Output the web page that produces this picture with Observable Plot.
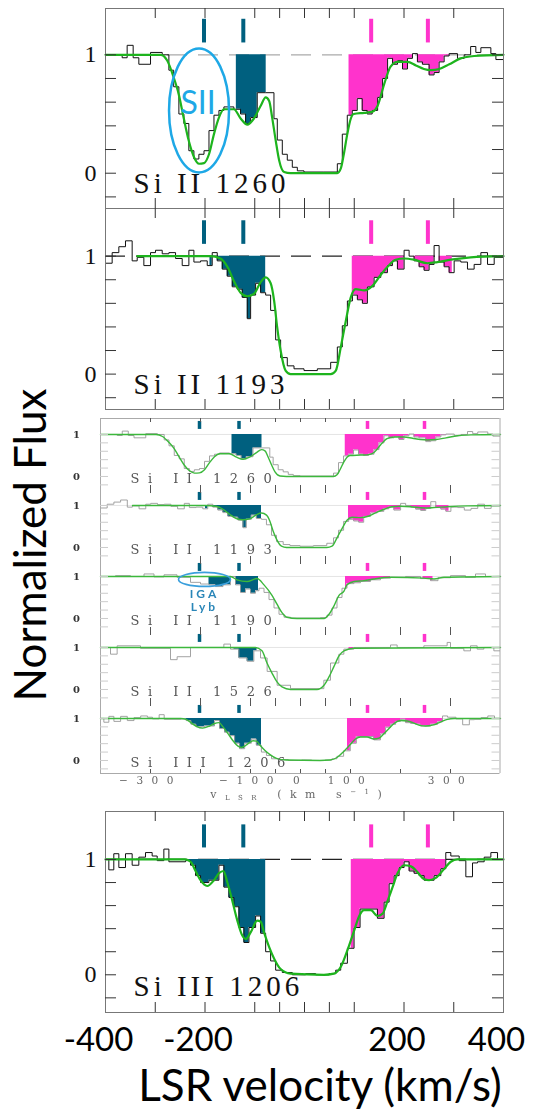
<!DOCTYPE html>
<html><head><meta charset="utf-8">
<script src="https://cdn.jsdelivr.net/npm/d3@7"></script>
<script src="https://cdn.jsdelivr.net/npm/@observablehq/plot@0.6"></script>
<style>
html,body{margin:0;padding:0;background:#fff}
#root{position:relative;width:538px;height:1112px;overflow:hidden;background:#fff}
.slot{position:absolute;left:0}
.slot svg{overflow:visible;background:transparent}
#ylab{position:absolute;left:29px;top:545px;transform:translate(-50%,-50%) rotate(-90deg);font:44px Lato;white-space:nowrap;color:#000}
#xlab{position:absolute;left:320px;top:1084px;transform:translate(-50%,-50%);font:44px Lato;white-space:nowrap;color:#000}
</style></head>
<body><div id="root"><div id="ylab">Normalized Flux</div><div id="xlab">LSR velocity (km/s)</div></div>
<script>
// ---------- axes / ticks ----------
const xDomain = [-400, 400];
const frameXTicks = [-300, -200, -100, -50, 0, 50, 100, 200, 300];
const frameYTicks = [-0.2, 0, 0.2, 0.4, 0.6, 0.8, 1.0];
const fluxTickLabels = [0, 1];
const velocityTickLabels = [-400, -200, 200, 400];
const compositeTickLabels = [-300, -100, 0, 100, 300];

// ---------- velocity components ----------
const tealComponents = [-202, -123];
const magentaComponents = [134, 248];

// ---------- Si II 1260 (histogram bin left edges, flux) ----------
const si1260V = [-400,-366.5,-356.5,-344.4,-333,-309.5,-286,-272.6,-263,-252.5,-242.5,-232.5,-222.3,-212.3,-202,-192,-182,-172,-162,-142,-128.5,-118.4,-108.3,-95,-78,-61.4,-54.7,-44.6,-34.6,-24.5,-14.4,-1,39,66,76,86,96,106,116,126,136,147,157,167,177,187,197,207,217,227,237,250.5,260.5,270.6,280.7,290.7,307.5,321,334,344.4,354.5,374.6,384.7];
const si1260F = [1.0,0.975,1.08,0.975,0.92,1.02,1.0,0.87,0.73,0.50,0.42,0.19,0.12,0.16,0.19,0.36,0.49,0.53,0.56,0.54,0.50,0.42,0.47,0.68,0.68,0.46,0.28,0.16,0.11,0.05,0.02,0.01,0.01,0.08,0.33,0.49,0.53,0.63,0.53,0.50,0.53,0.64,0.80,0.97,0.92,0.95,0.88,0.97,1.01,0.94,0.92,0.83,0.85,0.94,0.99,1.01,0.97,1.0,1.07,1.02,1.06,1.01,0.96];
const si1260ModelV = [-400,-289,-276,-263,-253,-243,-233,-222,-212,-202,-192,-182,-172,-162,-142,-128,-115,-102,-88,-78,-71,-65,-58,-51,-41,-28,66,73,79,86,93,99,120,137,147,160,173,187,207,224,240,254,271,291,314,341,400];
const si1260ModelF = [1.0,1.0,0.952,0.81,0.67,0.47,0.28,0.135,0.08,0.085,0.16,0.33,0.47,0.54,0.54,0.46,0.41,0.46,0.57,0.64,0.61,0.47,0.28,0.11,0.01,0,0,0.04,0.16,0.33,0.46,0.50,0.51,0.52,0.57,0.75,0.90,0.94,0.94,0.91,0.88,0.87,0.88,0.92,0.97,0.99,1.0];
const si1260Teal = [[-137, -77]];
const si1260Magenta = [[89.5, 291]];

// ---------- Si II 1193 ----------
const si1193V = [-400,-386.6,-373.2,-359.8,-346.4,-336.3,-322.9,-309.5,-299.5,-286,-272.6,-259.2,-245.8,-232.4,-222.3,-208.9,-195.5,-185.5,-175.4,-165.3,-155.3,-145.2,-135.2,-125.1,-115,-108.3,-98.3,-88.2,-78.1,-68.1,-58,-48,-34.6,-21.1,-1,25.8,52.6,66,76,86.2,96.3,106.3,116.4,126.4,139.9,153.3,166.7,176.7,186.8,200.2,210.3,220.3,230.4,240.4,250.5,260.5,270.6,280.7,290.7,300.8,314.2,327.6,341,354.5,367.9,381.3];
const si1193F = [0.94,1.03,1.08,1.13,0.96,0.99,0.92,1.03,1.05,1.02,1.03,0.98,0.92,1.05,0.95,0.96,0.92,1.03,0.96,0.89,0.83,0.74,0.72,0.65,0.47,0.67,0.77,0.69,0.67,0.54,0.29,0.14,0.07,0.045,0.03,0.045,0.10,0.23,0.41,0.62,0.67,0.63,0.60,0.74,0.82,0.86,0.92,0.96,0.89,1.05,1.0,0.96,0.91,0.88,0.93,1.09,0.95,0.91,0.86,0.96,0.95,0.89,0.93,1.03,0.93,0.99];
const si1193ModelV = [-336,-190,-169,-155,-142,-128.5,-115,-101.6,-88,-78,-68,-61,-55,-48,-38,-28,52.6,63,73,83,93,103,120,137,153,167,183,200,220,247,267,294,334,400];
const si1193ModelF = [1.0,1.0,0.98,0.91,0.79,0.69,0.66,0.68,0.78,0.82,0.77,0.62,0.40,0.20,0.03,0,0,0.03,0.23,0.45,0.65,0.72,0.71,0.75,0.84,0.91,0.97,0.98,0.97,0.94,0.95,0.97,0.99,1.0];
const si1193Teal = [[-190, -78]];
const si1193Magenta = [[96, 297]];

// ---------- Si II 1190 (inset only) ----------
const si1190V = [-400,-370,-340,-313,-293,-273,-247,-220,-200,-183,-170,-155,-140,-130,-120,-110,-100,-90,-83,-73,-63,-53,-43,-33,-20,40,53,63,73,83,93,107,120,140,160,180,210,240,260,275,300,330,350,370];
const si1190F = [1.0,1.02,1.0,1.06,0.99,1.04,0.98,0.86,0.82,0.8,0.76,0.8,1.0,0.8,0.62,0.7,0.6,0.66,0.72,0.62,0.45,0.25,0.1,0.03,0.01,0.02,0.08,0.25,0.5,0.72,0.83,0.85,0.88,0.92,0.96,0.98,1.0,0.95,0.9,0.97,1.02,0.98,1.06,1.0];
const si1190ModelV = [-400,-140,-127,-107,-87,-73,-57,-47,-37,-27,-7,47,57,67,77,87,93,107,127,147,180,247,267,287,400];
const si1190ModelF = [1.0,1.0,0.92,0.88,0.95,0.8,0.55,0.34,0.14,0.03,0,0,0.1,0.3,0.55,0.65,0.8,0.88,0.9,0.94,0.98,0.96,0.94,0.98,1.0];
const si1190Teal = [[-183, -140], [-130, -84]];
const si1190Magenta = [[90, 180], [245, 265]];

// ---------- Si II 1526 (inset only) ----------
const si1526V = [-400,-380,-366.7,-320,-260,-246.7,-220,-153.3,-140,-123.3,-106.7,-93.3,-80,-66.7,-46.7,-20,46.7,60,76.7,86.7,106.7,180,193.3,246.7,293.3,300,326.7,340,353.3,366.7,386.7];
const si1526F = [1.0,0.84,1.04,0.98,0.71,0.78,1.0,1.08,0.96,0.75,0.67,0.92,0.75,0.43,0.1,0.02,0.22,0.63,0.84,0.96,1.0,1.06,1.0,1.04,1.12,0.98,0.92,1.04,0.96,1.0,0.92];
const si1526ModelV = [-400,-90,-77,-67,-57,-47,-37,-20,33,47,57,67,77,87,107,400];
const si1526ModelF = [1.0,1.0,0.92,0.63,0.39,0.18,0.06,0,0,0.1,0.3,0.55,0.8,0.92,0.98,1.0];
const si1526Teal = [[-153, -140], [-133, -87]];
const si1526Magenta = [[97, 153], [240, 253]];

// ---------- Si III 1206 ----------
const si1206V = [-400,-393.3,-383.3,-373.2,-359.8,-346.4,-333,-319.6,-306.2,-296.1,-282.7,-272.6,-239.1,-229,-219,-208.9,-192.2,-172,-162,-151.9,-141.9,-131.8,-121.8,-111.7,-98.3,-88.2,-78.1,-68.1,-58,-44.6,-24.5,2.3,22.5,49.3,62.7,72.8,86.2,99.6,111.7,146.6,160,170.1,180.1,190.2,200.2,210.3,220.3,230.4,240.4,260.5,274,284,294.1,310.9,324.3,337.7,347.8,361.2,374.6,388];
const si1206F = [1.0,0.91,1.05,0.93,1.05,0.95,1.02,1.06,1.03,0.99,1.09,0.98,0.99,0.95,0.86,0.80,0.82,0.95,0.76,0.67,0.59,0.41,0.28,0.41,0.51,0.36,0.20,0.12,0.04,0.02,0.0,0.01,0.0,0.01,0.04,0.10,0.23,0.41,0.57,0.49,0.63,0.79,0.86,0.93,0.98,0.90,0.88,0.86,0.82,0.86,0.92,1.06,1.03,0.99,0.85,0.97,0.98,1.02,1.06,1.0];
const si1206ModelV = [-400,-240,-229,-219,-209,-195.6,-182,-172,-163,-155,-145,-135,-125,-118,-108,-95,-88,-81.5,-71,-61,-48,-28,39,59,73,86,99.6,110,120,133,147,157,167,177,187,200,214,227,240,250.5,264,281,294,307.5,400];
const si1206ModelF = [1.0,1.0,0.98,0.90,0.82,0.77,0.82,0.88,0.90,0.80,0.64,0.47,0.34,0.31,0.37,0.47,0.46,0.37,0.24,0.14,0.05,0.01,0,0.01,0.07,0.21,0.38,0.51,0.56,0.56,0.51,0.53,0.64,0.76,0.88,0.95,0.94,0.89,0.83,0.82,0.84,0.92,0.98,1.0,1.0];
const si1206Teal = [[-236, -78]];
const si1206Magenta = [[94, 284]];

// ---------- labels / annotations ----------
const mainLabels = ["Si II 1260", "Si II 1193", "Si III 1206"];
const insetKeys = ["1260", "1193", "1190", "1526", "1206"];
const insetLabels = ["Si II 1260", "Si II 1193", "Si II 1190", "Si II 1526", "Si III 1206"];
const siiNote = [{v: -214, flux: 0.585, text: "SII"}];
const siiEllipse = [{v: -212, flux: 0.53}];
const igaEllipse = [{key: "1190", v: -192, flux: 0.93}];
const igaNote = [{key: "1190", v: -192, flux: 0.58, text: "IGA"}, {key: "1190", v: -192, flux: 0.27, text: "Lyb"}];

// ---------- styles ----------
const TEAL = "#00607f", MAGENTA = "#ff33cc", GREEN = "#1db41d", BLUE = "#1ea8e6";

// ---------- helpers ----------
const rowsOf = (V, F) => V.map((v, i) => ({v, f: F[i]}));
const stepRows = (V, F, xmax = xDomain[1]) => [...rowsOf(V, F), {v: xmax, f: F[F.length - 1]}];
function clipRows(V, F, a, b) {
  const val = x => F[Math.max(0, d3.bisectRight(V, x) - 1)];
  const rows = [{v: a, f: val(a)}];
  V.forEach((v, i) => { if (v > a && v < b) rows.push({v, f: F[i]}); });
  rows.push({v: b, f: val(b)});
  return rows;
}
function ellipseSymbol(rx, ry) {
  const k = 0.5523;
  return {draw(c) {
    c.moveTo(rx, 0);
    c.bezierCurveTo(rx, ry * k, rx * k, ry, 0, ry);
    c.bezierCurveTo(-rx * k, ry, -rx, ry * k, -rx, 0);
    c.bezierCurveTo(-rx, -ry * k, -rx * k, -ry, 0, -ry);
    c.bezierCurveTo(rx * k, -ry, rx, -ry * k, rx, 0);
    c.closePath();
  }};
}
function place(el, top) {
  const d = document.createElement("div");
  d.className = "slot"; d.style.top = top + "px";
  d.appendChild(el);
  document.getElementById("root").appendChild(d);
}

// ---------- main panel ----------
function mainPanel(o) {
  const [y0, y1] = o.yDomain;
  const tY = 10 * (y1 - y0) / o.inner;
  const tX = 11 * (xDomain[1] - xDomain[0]) / 398;
  const marks = [
    Plot.ruleY([1], {stroke: o.dash, strokeWidth: 1.3, strokeDasharray: "20,11"}),
    ...o.teal.map(([a, b]) => Plot.areaY(clipRows(o.V, o.F, a, b), {x: "v", y1: d => Math.min(d.f, 1), y2: 1, curve: "step-after", fill: TEAL})),
    ...o.magenta.map(([a, b]) => Plot.areaY(clipRows(o.V, o.F, a, b), {x: "v", y1: d => Math.min(d.f, 1), y2: 1, curve: "step-after", fill: MAGENTA})),
    Plot.line(stepRows(o.V, o.F), {x: "v", y: "f", curve: "step-after", stroke: "#111", strokeWidth: 1}),
    Plot.line(rowsOf(o.MV, o.MF), {x: "v", y: "f", curve: "monotone-x", stroke: GREEN, strokeWidth: 2.2}),
    Plot.ruleX(tealComponents, {x: d => d, y1: 1.10, y2: 1.30, stroke: TEAL, strokeWidth: 4}),
    Plot.ruleX(magentaComponents, {x: d => d, y1: 1.10, y2: 1.30, stroke: MAGENTA, strokeWidth: 4}),
    Plot.frame({stroke: "#777"}),
    Plot.ruleX(frameXTicks, {x: d => d, y1: y1, y2: y1 - tY, stroke: "#333"}),
    Plot.ruleX(frameXTicks, {x: d => d, y1: y0, y2: y0 + tY, stroke: "#333"}),
    Plot.ruleY(frameYTicks, {y: d => d, x1: xDomain[0], x2: xDomain[0] + tX, stroke: "#333"}),
    Plot.ruleY(frameYTicks, {y: d => d, x1: xDomain[1], x2: xDomain[1] - tX, stroke: "#333"}),
    Plot.axisY(fluxTickLabels, {anchor: "left", label: null, tickSize: 0, tickPadding: 9, fontSize: 24, fontFamily: "Liberation Serif", fill: "#111", tickFormat: d => String(d)}),
    Plot.text([o.label], {text: d => d, frameAnchor: "bottom-left", dx: 28, dy: o.labelDy, textAnchor: "start", lineAnchor: "bottom", fontSize: 29, fontFamily: "Liberation Serif", fill: "#111"}),
    ...(o.extra || [])
  ];
  const svg = Plot.plot({
    width: 538, height: o.mt + o.inner + o.mb,
    marginLeft: 105, marginRight: 35, marginTop: o.mt, marginBottom: o.mb,
    x: {domain: xDomain, axis: null},
    y: {domain: o.yDomain, axis: null},
    style: {background: "transparent", overflow: "visible"},
    marks
  });
  d3.select(svg).selectAll("text").filter(function() { return this.textContent === o.label; }).style("letter-spacing", "4px");
  return svg;
}

// Panel 1: Si II 1260
place(mainPanel({
  V: si1260V, F: si1260F, MV: si1260ModelV, MF: si1260ModelF, teal: si1260Teal, magenta: si1260Magenta,
  label: mainLabels[0], labelDy: -16, yDomain: [-0.298, 1.391], inner: 200, mt: 8, mb: 2, dash: "#aaa",
  extra: [
    Plot.dot(siiEllipse, {x: "v", y: "flux", symbol: ellipseSymbol(30, 62), fill: "none", stroke: BLUE, strokeWidth: 2.5}),
    Plot.text(siiNote, {x: "v", y: "flux", text: "text", fontSize: 32, fontFamily: "Lato", fill: BLUE, lineAnchor: "middle"})
  ]
}), 0);

// Panel 2: Si II 1193
place(mainPanel({
  V: si1193V, F: si1193F, MV: si1193ModelV, MF: si1193ModelF, teal: si1193Teal, magenta: si1193Magenta,
  label: mainLabels[1], labelDy: -16, yDomain: [-0.30, 1.404], inner: 201, mt: 8, mb: 2, dash: "#222"
}), 200);

// Panel 4: Si III 1206 (with velocity axis)
place(mainPanel({
  V: si1206V, F: si1206F, MV: si1206ModelV, MF: si1206ModelF, teal: si1206Teal, magenta: si1206Magenta,
  label: mainLabels[2], labelDy: -17, yDomain: [-0.327, 1.416], inner: 201, mt: 8, mb: 100, dash: "#222",
  extra: [
    Plot.axisX(velocityTickLabels, {anchor: "bottom", label: null, tickSize: 0, tickPadding: 15, fontSize: 33, fontFamily: "Lato", fill: "#000", dx: -7, tickFormat: d => String(d)})
  ]
}), 803);

// ---------- inset: five stacked lines ----------
const insetSeries = [
  [si1260V, si1260F, si1260ModelV, si1260ModelF, si1260Teal, si1260Magenta],
  [si1193V, si1193F, si1193ModelV, si1193ModelF, si1193Teal, si1193Magenta],
  [si1190V, si1190F, si1190ModelV, si1190ModelF, si1190Teal, si1190Magenta],
  [si1526V, si1526F, si1526ModelV, si1526ModelF, si1526Teal, si1526Magenta],
  [si1206V, si1206F, si1206ModelV, si1206ModelF, si1206Teal, si1206Magenta]
];
const insetHist = [], insetModel = [], insetTealRows = [], insetMagentaRows = [];
insetSeries.forEach(([V, F, MV, MF, T, M], i) => {
  const key = insetKeys[i];
  stepRows(V, F, 399).forEach(d => insetHist.push({...d, key}));
  rowsOf(MV, MF).forEach(d => insetModel.push({...d, key}));
  T.forEach(([a, b], j) => clipRows(V, F, a, b).forEach(d => insetTealRows.push({...d, key, seg: key + "t" + j})));
  M.forEach(([a, b], j) => clipRows(V, F, a, b).forEach(d => insetMagentaRows.push({...d, key, seg: key + "m" + j})));
});
const insetX = [-400, 399];
const insetY = [-0.31, 1.38];
const insetFacetH = 71;
const iT = 4 * (insetY[1] - insetY[0]) / insetFacetH;
const iS = 8 * (insetX[1] - insetX[0]) / 399.5;
const insetLabelRows = insetKeys.map((key, i) => ({key, text: insetLabels[i]}));

const inset = Plot.plot({
  width: 538, height: 8 + 5 * insetFacetH + 32,
  marginLeft: 100, marginRight: 38.5, marginTop: 8, marginBottom: 32,
  x: {domain: insetX, axis: null},
  y: {domain: insetY, axis: null},
  fy: {domain: insetKeys, padding: 0, axis: null},
  style: {background: "transparent", overflow: "visible", letterSpacing: "8.5px", filter: "blur(0.3px)"},
  marks: [
    Plot.ruleY([1], {stroke: "#ddd", strokeWidth: 0.8}),
    Plot.areaY(insetTealRows, {x: "v", y1: d => Math.min(d.f, 1), y2: 1, z: "seg", fy: "key", curve: "step-after", fill: TEAL}),
    Plot.areaY(insetMagentaRows, {x: "v", y1: d => Math.min(d.f, 1), y2: 1, z: "seg", fy: "key", curve: "step-after", fill: MAGENTA}),
    Plot.line(insetHist, {x: "v", y: "f", fy: "key", curve: "step-after", stroke: "#999", strokeWidth: 0.9}),
    Plot.line(insetModel, {x: "v", y: "f", fy: "key", curve: "monotone-x", stroke: "#3cb83c", strokeWidth: 1.4}),
    Plot.ruleX(tealComponents, {x: d => d, y1: 1.12, y2: 1.31, stroke: TEAL, strokeWidth: 3.5}),
    Plot.ruleX(magentaComponents, {x: d => d, y1: 1.12, y2: 1.31, stroke: MAGENTA, strokeWidth: 3.5}),
    Plot.ruleX(insetX, {x: d => d, stroke: "#aaa"}),
    Plot.ruleY([insetY[1]], {y: d => d, fy: [insetKeys[0]], stroke: "#aaa"}),
    Plot.ruleY([insetY[0]], {y: d => d, fy: [insetKeys[4]], stroke: "#aaa"}),
    Plot.ruleX(frameXTicks, {x: d => d, y1: insetY[1], y2: insetY[1] - iT, stroke: "#555"}),
    Plot.ruleX(frameXTicks, {x: d => d, y1: insetY[0], y2: insetY[0] + iT, stroke: "#555"}),
    Plot.ruleY(frameYTicks, {y: d => d, x1: insetX[0], x2: insetX[0] + iS, stroke: "#ccc"}),
    Plot.ruleY(frameYTicks, {y: d => d, x1: insetX[1], x2: insetX[1] - iS, stroke: "#ccc"}),
    Plot.axisY(fluxTickLabels, {anchor: "left", label: null, tickSize: 0, tickPadding: 12, fontSize: 10, fontWeight: "bold", fontFamily: "DejaVu Serif", fill: "#333", tickFormat: d => String(d)}),
    Plot.text(insetLabelRows, {fy: "key", text: "text", frameAnchor: "bottom-left", dx: 30, dy: -6.5, textAnchor: "start", lineAnchor: "bottom", fontSize: 13, fontFamily: "DejaVu Serif", fill: "#555"}),
    Plot.dot(igaEllipse, {x: "v", y: "flux", fy: "key", symbol: ellipseSymbol(26, 7), fill: "none", stroke: "#3a9fdc", strokeWidth: 1.6}),
    Plot.text(igaNote, {x: "v", y: "flux", fy: "key", text: "text", fontSize: 12, fontWeight: "bold", fontFamily: "Lato", fill: "#2a86b8", lineAnchor: "middle"}),
    Plot.axisX(compositeTickLabels, {anchor: "bottom", label: null, tickSize: 0, tickPadding: 3, fontSize: 10.5, fontFamily: "DejaVu Serif", fill: "#666"}),
    Plot.text([{key: insetKeys[4], text: "vLSR (km s-1)"}], {fy: "key", text: "text", frameAnchor: "bottom", dy: 24, fontSize: 11, fontFamily: "DejaVu Serif", fill: "#666"})
  ]
});
d3.select(inset).selectAll("text").filter(function() { return this.textContent === "IGA" || this.textContent === "Lyb"; }).style("letter-spacing", "3px");
d3.select(inset).selectAll("text").filter(function() { return this.textContent === "vLSR (km s-1)"; }).each(function() {
  const t = d3.select(this); t.text(null);
  t.append("tspan").text("v");
  t.append("tspan").attr("font-size", 7).attr("dy", 2).text("LSR");
  t.append("tspan").attr("dy", -2).text(" (km s");
  t.append("tspan").attr("font-size", 7).attr("dy", -4).text("−1");
  t.append("tspan").attr("dy", 4).text(")");
});
place(inset, 410);
</script>
</body></html>
